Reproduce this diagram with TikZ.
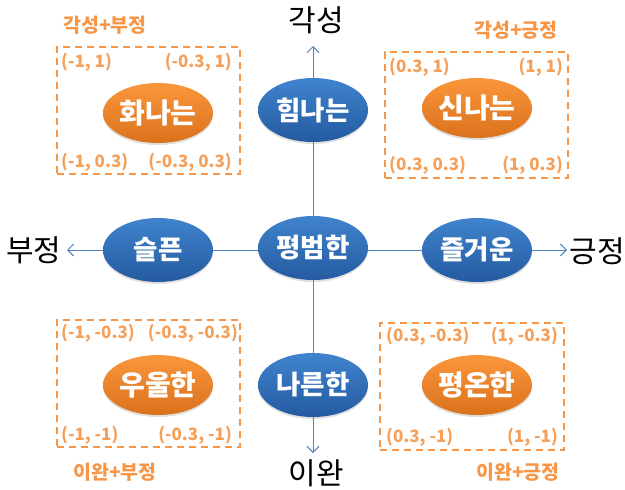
\documentclass[tikz,border=0pt]{standalone}
\usepackage{fontspec}
\setmainfont{Noto Sans CJK KR}
\usetikzlibrary{arrows.meta,shadows,shapes.geometric}
\definecolor{axisblue}{RGB}{79,129,189}
\definecolor{bluetop}{RGB}{64,132,206}
\definecolor{bluebot}{RGB}{36,90,160}
\definecolor{orgtop}{RGB}{250,150,60}
\definecolor{orgbot}{RGB}{218,114,28}
\definecolor{dashorange}{RGB}{247,150,70}
\definecolor{coordorange}{RGB}{245,160,90}
\tikzset{
  axisline/.style={draw=axisblue, line width=0.9pt, {Straight Barb[length=6pt,width=12pt]}-{Straight Barb[length=6pt,width=12pt]}},
  blueell/.style={ellipse, minimum width=110pt, minimum height=64pt, inner sep=0pt,
    top color=bluetop, bottom color=bluebot, draw=none, text=white,
    font=\fontsize{26.5}{26.5}\selectfont\bfseries,
    drop shadow={opacity=0.25, shadow xshift=0pt, shadow yshift=-2pt}},
  orgell/.style={ellipse, minimum width=110pt, minimum height=60pt, inner sep=0pt,
    top color=orgtop, bottom color=orgbot, draw=none, text=white,
    font=\fontsize{28}{28}\selectfont\bfseries,
    drop shadow={opacity=0.25, shadow xshift=0pt, shadow yshift=-2pt}},
  dashbox/.style={draw=dashorange, line width=1.6pt, dash pattern=on 7pt off 5pt, inner sep=0pt},
  axislabel/.style={inner sep=0pt, text=black, font=\fontsize{30}{30}\selectfont},
  quadlabel/.style={inner sep=0pt, text=dashorange, font=\fontsize{19.5}{19.5}\selectfont\bfseries},
  coordlabel/.style={inner sep=0pt, text=coordorange, font=\fontsize{17}{17}\selectfont\bfseries},
}
\begin{document}
\begin{tikzpicture}[x=1pt,y=-1pt]
\useasboundingbox (0,0) rectangle (625,490);
% axes
\coordinate (vt) at (313,46);
\coordinate (vb) at (313,453);
\coordinate (hl) at (67,250);
\coordinate (hr) at (567,250);
\draw[axisline] (vb) -- (vt);
\draw[axisline] (hl) -- (hr);
% axis labels
\node[axislabel] (gak) at (316,20) {각성};
\node[axislabel] (iwan) at (316,473) {이완};
\node[axislabel] (bu) at (34,250) {부정};
\node[axislabel] (geung) at (597,251) {긍정};
% dashed boxes
\node[dashbox, minimum width=183pt, minimum height=127pt] (b1) at (148.5,110.5) {};
\node[dashbox, minimum width=183pt, minimum height=126pt] (b2) at (476.5,115) {};
\node[dashbox, minimum width=183pt, minimum height=127pt] (b3) at (148.5,383.5) {};
\node[dashbox, minimum width=184pt, minimum height=127pt] (b4) at (472,386.5) {};
% quadrant labels
\node[quadlabel] (q1) at (105,25) {각성+부정};
\node[quadlabel] (q2) at (516,30) {각성+긍정};
\node[quadlabel] (q3) at (115,472) {이완+부정};
\node[quadlabel] (q4) at (518,472) {이완+긍정};
% coordinate labels
\node[coordlabel, anchor=west] (c1a) at (61,62) {(-1, 1)};
\node[coordlabel, anchor=east] (c1b) at (232,62) {(-0.3, 1)};
\node[coordlabel, anchor=west] (c1c) at (61,162) {(-1, 0.3)};
\node[coordlabel, anchor=east] (c1d) at (232,162) {(-0.3, 0.3)};
\node[coordlabel, anchor=west] (c2a) at (389,67) {(0.3, 1)};
\node[coordlabel, anchor=east] (c2b) at (563,67) {(1, 1)};
\node[coordlabel, anchor=west] (c2c) at (389,165) {(0.3, 0.3)};
\node[coordlabel, anchor=east] (c2d) at (563,165) {(1, 0.3)};
\node[coordlabel, anchor=west] (c3a) at (61,333) {(-1, -0.3)};
\node[coordlabel, anchor=east] (c3b) at (238,333) {(-0.3, -0.3)};
\node[coordlabel, anchor=west] (c3c) at (61,435) {(-1, -1)};
\node[coordlabel, anchor=east] (c3d) at (232,435) {(-0.3, -1)};
\node[coordlabel, anchor=west] (c4a) at (386,336) {(0.3, -0.3)};
\node[coordlabel, anchor=east] (c4b) at (558,336) {(1, -0.3)};
\node[coordlabel, anchor=west] (c4c) at (386,437) {(0.3, -1)};
\node[coordlabel, anchor=east] (c4d) at (558,437) {(1, -1)};
% ellipses
\node[orgell] (hwa) at (158,113) {화나는};
\node[blueell] (him) at (313,110) {힘나는};
\node[orgell] (sin) at (477,108) {신나는};
\node[blueell] (seul) at (158,250) {슬픈};
\node[blueell] (pyeong) at (313,248) {평범한};
\node[blueell] (jeul) at (477,250) {즐거운};
\node[orgell] (uul) at (158,385) {우울한};
\node[blueell] (nareun) at (313,385) {나른한};
\node[orgell] (pyeongon) at (477,385) {평온한};
\end{tikzpicture}
\end{document}
